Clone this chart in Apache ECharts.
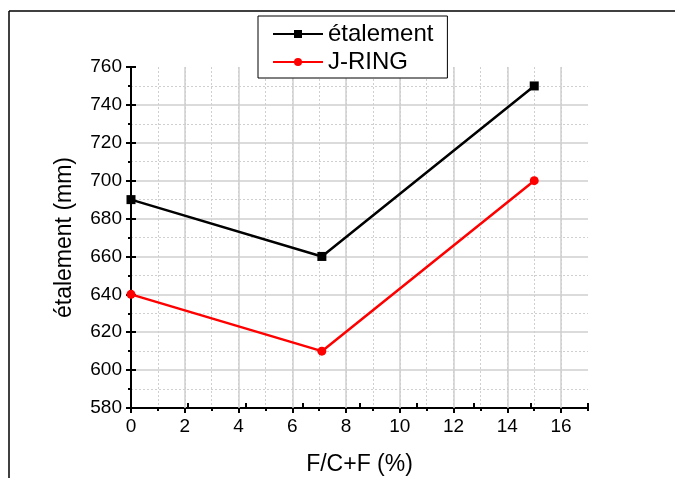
<!DOCTYPE html>
<html>
<head>
<meta charset="utf-8">
<script src="https://cdn.jsdelivr.net/npm/echarts@6/dist/echarts.min.js"></script>
<style>
html,body{margin:0;padding:0;background:#fff;}
#chart{width:675px;height:482px;}
</style>
</head>
<body>
<div id="chart"></div>
<script>
var xValues = [0, 7.1, 15];
var etalement = [690, 660, 750];
var jring = [640, 610, 700];
var seriesNames = ['étalement', 'J-RING'];
var xTitle = 'F/C+F (%)';
var yTitle = 'étalement (mm)';

function pairs(xs, ys) { return xs.map(function (x, i) { return [x, ys[i]]; }); }

var FONT = '"Liberation Sans", Arial, sans-serif';
var gridColor = '#cfcfcf';

var chart = echarts.init(document.getElementById('chart'), null, {renderer: 'canvas'});
var option = {
  backgroundColor: '#fff',
  animation: false,
  textStyle: {fontFamily: FONT},
  grid: {left: 131, top: 67, right: 87, bottom: 74, containLabel: false},
  graphic: [
    {type: 'line', shape: {x1: 9, y1: 11, x2: 675, y2: 11}, style: {stroke: '#000', lineWidth: 1.5}, silent: true},
    {type: 'line', shape: {x1: 9, y1: 11, x2: 9, y2: 478}, style: {stroke: '#000', lineWidth: 1.5}, silent: true}
  ],
  legend: {
    orient: 'vertical',
    left: 258, top: 16,
    padding: [6, 14, 4, 14],
    borderColor: '#000', borderWidth: 1,
    backgroundColor: '#fff',
    itemWidth: 50, itemHeight: 10, itemGap: 4,
    textStyle: {fontFamily: FONT, fontSize: 24, color: '#000', lineHeight: 24},
    data: [seriesNames[0], seriesNames[1]]
  },
  xAxis: [
    {
      type: 'value', min: 0, max: 17, interval: 1, position: 'bottom',
      axisLine: {show: true, onZero: false, lineStyle: {color: '#000', width: 2}},
      axisTick: {show: true, inside: false, length: 3, lineStyle: {color: '#000', width: 2}},
      axisLabel: {show: false},
      splitLine: {show: true, showMinLine: false, showMaxLine: false, lineStyle: {color: gridColor, width: 1, type: [2, 2]}},
      z: 2
    },
    {
      type: 'value', min: 0, max: 17, interval: 2, position: 'bottom',
      name: xTitle, nameLocation: 'middle', nameGap: 45, nameMoveOverlap: false,
      nameTextStyle: {fontFamily: FONT, fontSize: 23, color: '#000'},
      axisLine: {show: false, onZero: false},
      axisTick: {show: true, inside: false, length: 5, lineStyle: {color: '#000', width: 2}},
      axisLabel: {show: true, margin: 9, showMaxLabel: false, fontFamily: FONT, fontSize: 19, color: '#000'},
      splitLine: {show: true, showMinLine: false, showMaxLine: false, lineStyle: {color: gridColor, width: 1.5, type: 'solid'}},
      z: 3
    },
    {
      type: 'value', min: 0, max: 16, interval: 2, position: 'bottom',
      axisLine: {show: false, onZero: false},
      axisTick: {show: true, inside: true, length: 5, lineStyle: {color: '#000', width: 2}},
      axisLabel: {show: false},
      splitLine: {show: false},
      z: 3
    }
  ],
  yAxis: [
    {
      type: 'value', min: 580, max: 760, interval: 20, position: 'left',
      name: yTitle, nameLocation: 'middle', nameGap: 55, nameRotate: 90, nameMoveOverlap: false,
      nameTextStyle: {fontFamily: FONT, fontSize: 23, color: '#000'},
      axisLine: {show: true, onZero: false, lineStyle: {color: '#000', width: 2}},
      axisTick: {show: true, inside: false, length: 5, lineStyle: {color: '#000', width: 2}},
      minorTick: {show: true, splitNumber: 2, length: 3, lineStyle: {color: '#000', width: 2}},
      axisLabel: {show: true, margin: 9, fontFamily: FONT, fontSize: 19, color: '#000'},
      splitLine: {show: true, showMinLine: false, showMaxLine: false, lineStyle: {color: gridColor, width: 1.5}},
      minorSplitLine: {show: true, lineStyle: {color: gridColor, width: 1, type: [2, 2]}},
      z: 3
    },
    {
      type: 'value', min: 580, max: 760, interval: 20, position: 'left',
      axisLine: {show: false, onZero: false},
      axisTick: {show: true, inside: true, length: 5, lineStyle: {color: '#000', width: 2}},
      axisLabel: {show: false},
      splitLine: {show: false},
      z: 3
    }
  ],
  series: [
    {
      name: seriesNames[0], type: 'line', xAxisIndex: 0, yAxisIndex: 0,
      data: pairs(xValues, etalement),
      symbol: 'rect', symbolSize: 9,
      lineStyle: {color: '#000', width: 2.5},
      itemStyle: {color: '#000'},
      z: 5
    },
    {
      name: seriesNames[1], type: 'line', xAxisIndex: 0, yAxisIndex: 0,
      data: pairs(xValues, jring),
      symbol: 'circle', symbolSize: 9,
      lineStyle: {color: '#ff0000', width: 2.5},
      itemStyle: {color: '#ff0000'},
      z: 5
    }
  ]
};
chart.setOption(option);
</script>
</body>
</html>
